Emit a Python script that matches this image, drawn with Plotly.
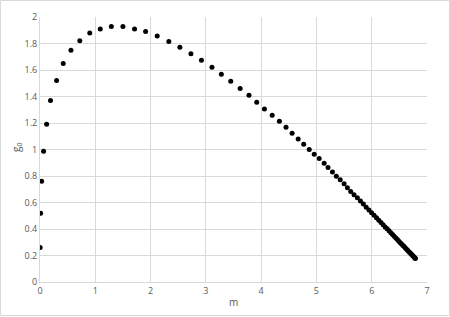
import plotly.graph_objects as go

m_vals = [0.002, 0.012, 0.03, 0.065, 0.12, 0.19, 0.30, 0.42, 0.56, 0.72, 0.90, 1.09,
          1.29, 1.50, 1.71, 1.91, 2.12, 2.33, 2.53, 2.73, 2.92, 3.11, 3.28, 3.45,
          3.62, 3.78, 3.92, 4.06, 4.20, 4.33, 4.45, 4.56, 4.67, 4.77, 4.87, 4.96,
          5.05, 5.14, 5.21, 5.29, 5.36, 5.43, 5.50, 5.56, 5.62, 5.68, 5.74,
          5.796, 5.849, 5.900, 5.950, 5.997, 6.042, 6.086, 6.128, 6.168, 6.206,
          6.243, 6.279, 6.313, 6.346, 6.377, 6.407, 6.436, 6.464, 6.491, 6.516,
          6.541, 6.565, 6.587, 6.609, 6.630, 6.650, 6.669, 6.688, 6.706, 6.723,
          6.739, 6.755, 6.770, 6.784, 6.790]
g0_vals = [0.261, 0.518, 0.761, 0.987, 1.19, 1.37, 1.52, 1.65, 1.75, 1.82, 1.88, 1.91,
           1.928, 1.928, 1.91, 1.89, 1.856, 1.816, 1.771, 1.723, 1.673, 1.62, 1.567, 1.515,
           1.46, 1.41, 1.356, 1.306, 1.258, 1.213, 1.168, 1.123, 1.08, 1.04, 1.0, 0.965,
           0.932, 0.897, 0.864, 0.831, 0.799, 0.771, 0.741, 0.711, 0.683, 0.658, 0.635,
           0.611, 0.588, 0.565, 0.544, 0.523, 0.504, 0.485, 0.466, 0.449, 0.432,
           0.416, 0.401, 0.386, 0.371, 0.358, 0.345, 0.332, 0.320, 0.308, 0.297,
           0.287, 0.276, 0.267, 0.257, 0.248, 0.239, 0.231, 0.223, 0.215, 0.207,
           0.200, 0.194, 0.187, 0.181, 0.178]

x_ticks = [0, 1, 2, 3, 4, 5, 6, 7]
y_ticks = [0, 0.2, 0.4, 0.6, 0.8, 1, 1.2, 1.4, 1.6, 1.8, 2]

W, H = 450, 317
L, R, T, B = 40, 23, 17, 35
pw, ph = W - L - R, H - T - B

fig = go.Figure()
fig.add_trace(go.Scatter(x=m_vals, y=g0_vals, mode="markers",
                         marker=dict(color="black", size=5, line=dict(width=0))))

grid = "#d9d9d9"
font_family = "Open Sans, Liberation Sans, sans-serif"
tickfont = dict(family=font_family, size=9, color="#595959")
fig.update_layout(
    width=W, height=H,
    margin=dict(l=L, r=R, t=T, b=B, autoexpand=False),
    paper_bgcolor="white", plot_bgcolor="white",
    showlegend=False,
    xaxis=dict(range=[0, 7], tickvals=x_ticks, ticktext=[str(v) for v in x_ticks],
               showgrid=True, gridcolor=grid, gridwidth=1, zeroline=False,
               showline=True, linecolor=grid, linewidth=1, ticks="",
               tickfont=tickfont, fixedrange=True),
    yaxis=dict(range=[0, 2], tickvals=y_ticks, ticktext=[f"{v:g}" for v in y_ticks],
               showgrid=True, gridcolor=grid, gridwidth=1, zeroline=False,
               showline=True, linecolor=grid, linewidth=1, ticks="",
               tickfont=tickfont, fixedrange=True),
    annotations=[
        dict(text="m", xref="paper", yref="paper", x=0.5, y=-(302 - 282) / ph,
             showarrow=False, xanchor="center", yanchor="middle",
             font=dict(family=font_family, size=10, color="#595959")),
        dict(text="g<sub>0</sub>", xref="paper", yref="paper", x=-(L - 16) / pw, y=(282 - 148) / ph,
             showarrow=False, xanchor="center", yanchor="middle", textangle=-90,
             font=dict(family=font_family, size=10, color="#595959")),
    ],
    shapes=[dict(type="rect", xref="paper", yref="paper",
                 x0=-(L - 0.5) / pw, x1=1 + (R - 0.5) / pw,
                 y0=-(B - 1.5) / ph, y1=1 + (T - 0.5) / ph,
                 line=dict(color="#d9d9d9", width=1))],
)

fig.write_html("out.html")
